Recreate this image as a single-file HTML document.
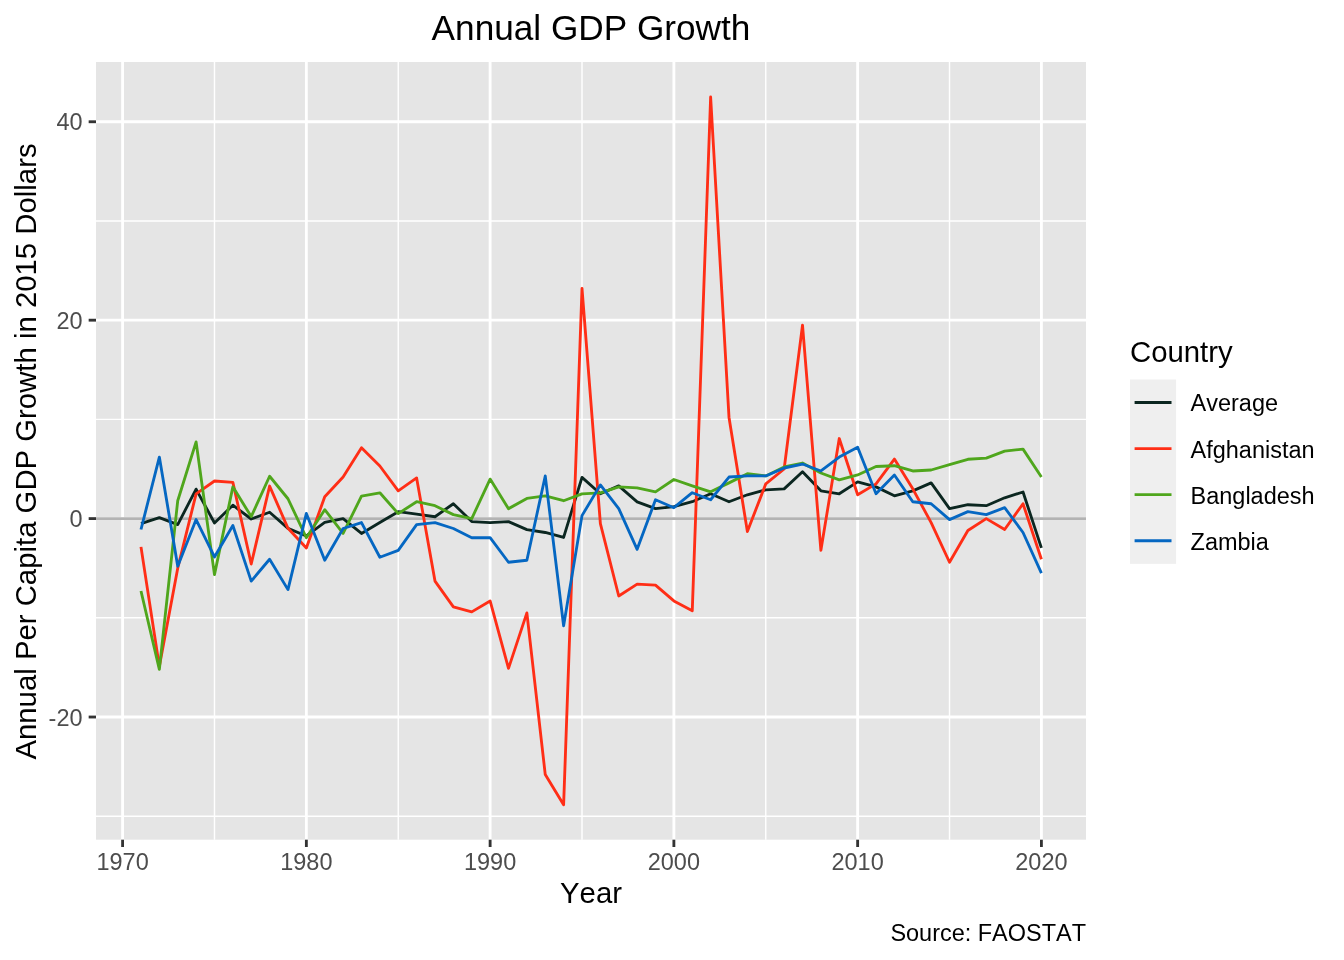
<!DOCTYPE html><html><head><meta charset="utf-8"><style>html,body{margin:0;padding:0;background:#fff;}svg{display:block;will-change:transform;}text{font-family:"Liberation Sans",sans-serif;font-kerning:none;}</style></head><body>
<svg width="1344" height="960" viewBox="0 0 1344 960">
<rect x="0" y="0" width="1344" height="960" fill="#fff"/>
<rect x="96.0" y="62.0" width="990.0" height="777.70" fill="#E5E5E5"/>
<line x1="96.0" y1="816.23" x2="1086.0" y2="816.23" stroke="#fff" stroke-width="1.423"/>
<line x1="96.0" y1="617.81" x2="1086.0" y2="617.81" stroke="#fff" stroke-width="1.423"/>
<line x1="96.0" y1="419.39" x2="1086.0" y2="419.39" stroke="#fff" stroke-width="1.423"/>
<line x1="96.0" y1="220.97" x2="1086.0" y2="220.97" stroke="#fff" stroke-width="1.423"/>
<line x1="214.48" y1="62.0" x2="214.48" y2="839.7" stroke="#fff" stroke-width="1.423"/>
<line x1="398.24" y1="62.0" x2="398.24" y2="839.7" stroke="#fff" stroke-width="1.423"/>
<line x1="582.00" y1="62.0" x2="582.00" y2="839.7" stroke="#fff" stroke-width="1.423"/>
<line x1="765.76" y1="62.0" x2="765.76" y2="839.7" stroke="#fff" stroke-width="1.423"/>
<line x1="949.52" y1="62.0" x2="949.52" y2="839.7" stroke="#fff" stroke-width="1.423"/>
<line x1="96.0" y1="717.02" x2="1086.0" y2="717.02" stroke="#fff" stroke-width="2.845"/>
<line x1="96.0" y1="518.60" x2="1086.0" y2="518.60" stroke="#fff" stroke-width="2.845"/>
<line x1="96.0" y1="320.18" x2="1086.0" y2="320.18" stroke="#fff" stroke-width="2.845"/>
<line x1="96.0" y1="121.76" x2="1086.0" y2="121.76" stroke="#fff" stroke-width="2.845"/>
<line x1="122.60" y1="62.0" x2="122.60" y2="839.7" stroke="#fff" stroke-width="2.845"/>
<line x1="306.36" y1="62.0" x2="306.36" y2="839.7" stroke="#fff" stroke-width="2.845"/>
<line x1="490.12" y1="62.0" x2="490.12" y2="839.7" stroke="#fff" stroke-width="2.845"/>
<line x1="673.88" y1="62.0" x2="673.88" y2="839.7" stroke="#fff" stroke-width="2.845"/>
<line x1="857.64" y1="62.0" x2="857.64" y2="839.7" stroke="#fff" stroke-width="2.845"/>
<line x1="1041.40" y1="62.0" x2="1041.40" y2="839.7" stroke="#fff" stroke-width="2.845"/>
<line x1="96.0" y1="518.60" x2="1086.0" y2="518.60" stroke="#B3B3B3" stroke-width="2.845"/>
<defs><clipPath id="pc"><rect x="96.0" y="62.0" width="990.0" height="777.70"/></clipPath></defs>
<g clip-path="url(#pc)" fill="none" stroke-width="2.845" stroke-linejoin="round" stroke-linecap="butt">
<polyline points="140.98,523.56 159.35,517.61 177.73,524.55 196.10,489.13 214.48,522.97 232.86,505.21 251.23,519.00 269.61,512.25 287.98,528.32 306.36,535.96 324.74,522.47 343.11,518.60 361.49,533.48 379.86,522.57 398.24,511.66 416.62,514.14 434.99,516.72 453.37,503.72 471.74,521.58 490.12,522.57 508.50,521.58 526.87,529.61 545.25,532.49 563.62,537.45 582.00,477.43 600.38,493.80 618.75,485.86 637.13,501.83 655.50,508.68 673.88,506.69 692.26,501.73 710.63,493.80 729.01,501.73 747.38,494.79 765.76,489.83 784.14,488.84 802.51,471.67 820.89,490.82 839.26,493.80 857.64,481.89 876.02,486.85 894.39,495.78 912.77,490.82 931.14,482.88 949.52,508.68 967.90,504.71 986.27,505.70 1004.65,497.77 1023.02,492.01 1041.40,547.87" stroke="#0B2620"/>
<polyline points="140.98,546.87 159.35,666.42 177.73,568.21 196.10,493.80 214.48,481.00 232.86,482.39 251.23,564.04 269.61,486.06 287.98,528.32 306.36,547.97 324.74,496.77 343.11,476.93 361.49,447.76 379.86,466.02 398.24,490.82 416.62,477.92 434.99,581.10 453.37,606.90 471.74,611.86 490.12,600.94 508.50,668.41 526.87,612.85 545.25,774.56 563.62,804.82 582.00,288.43 600.38,523.56 618.75,595.98 637.13,584.08 655.50,585.07 673.88,600.94 692.26,610.87 710.63,96.96 729.01,417.41 747.38,531.50 765.76,483.88 784.14,469.00 802.51,325.14 820.89,550.35 839.26,438.54 857.64,494.79 876.02,483.88 894.39,459.07 912.77,488.84 931.14,522.57 949.52,562.25 967.90,530.51 986.27,518.60 1004.65,529.51 1023.02,503.72 1041.40,559.28" stroke="#FF2E16"/>
<polyline points="140.98,591.02 159.35,669.40 177.73,500.74 196.10,441.91 214.48,574.65 232.86,486.85 251.23,516.62 269.61,476.24 287.98,498.76 306.36,537.75 324.74,509.67 343.11,533.48 361.49,496.08 379.86,492.81 398.24,513.64 416.62,501.73 434.99,505.70 453.37,514.63 471.74,518.60 490.12,479.11 508.50,508.68 526.87,498.46 545.25,495.88 563.62,500.74 582.00,493.80 600.38,492.81 618.75,486.85 637.13,487.94 655.50,491.91 673.88,479.51 692.26,485.86 710.63,491.81 729.01,482.88 747.38,473.66 765.76,475.94 784.14,467.01 802.51,463.04 820.89,472.96 839.26,479.91 857.64,474.95 876.02,466.51 894.39,465.72 912.77,470.98 931.14,469.99 949.52,464.53 967.90,459.27 986.27,458.08 1004.65,451.14 1023.02,449.15 1041.40,476.93" stroke="#4FA61C"/>
<polyline points="140.98,529.51 159.35,457.09 177.73,566.22 196.10,519.59 214.48,556.99 232.86,525.54 251.23,581.10 269.61,559.28 287.98,589.63 306.36,513.44 324.74,560.27 343.11,528.52 361.49,522.57 379.86,557.29 398.24,550.35 416.62,524.55 434.99,522.57 453.37,528.52 471.74,537.75 490.12,537.65 508.50,562.25 526.87,560.27 545.25,475.94 563.62,625.75 582.00,515.62 600.38,484.87 618.75,508.68 637.13,549.36 655.50,499.75 673.88,507.69 692.26,492.71 710.63,499.75 729.01,477.03 747.38,475.94 765.76,475.94 784.14,468.00 802.51,464.03 820.89,470.98 839.26,457.09 857.64,447.27 876.02,493.80 894.39,474.95 912.77,501.73 931.14,503.72 949.52,519.59 967.90,511.66 986.27,514.63 1004.65,507.69 1023.02,532.49 1041.40,573.17" stroke="#0567C2"/>
</g>
<line x1="88.67" y1="717.02" x2="96.0" y2="717.02" stroke="#333" stroke-width="2.845"/>
<text x="82.5" y="725.62" font-size="23.47" fill="#4D4D4D" text-anchor="end">-20</text>
<line x1="88.67" y1="518.60" x2="96.0" y2="518.60" stroke="#333" stroke-width="2.845"/>
<text x="82.5" y="527.20" font-size="23.47" fill="#4D4D4D" text-anchor="end">0</text>
<line x1="88.67" y1="320.18" x2="96.0" y2="320.18" stroke="#333" stroke-width="2.845"/>
<text x="82.5" y="328.78" font-size="23.47" fill="#4D4D4D" text-anchor="end">20</text>
<line x1="88.67" y1="121.76" x2="96.0" y2="121.76" stroke="#333" stroke-width="2.845"/>
<text x="82.5" y="130.36" font-size="23.47" fill="#4D4D4D" text-anchor="end">40</text>
<line x1="122.60" y1="839.7" x2="122.60" y2="847.03" stroke="#333" stroke-width="2.845"/>
<text x="122.60" y="869.7" font-size="23.47" fill="#4D4D4D" text-anchor="middle">1970</text>
<line x1="306.36" y1="839.7" x2="306.36" y2="847.03" stroke="#333" stroke-width="2.845"/>
<text x="306.36" y="869.7" font-size="23.47" fill="#4D4D4D" text-anchor="middle">1980</text>
<line x1="490.12" y1="839.7" x2="490.12" y2="847.03" stroke="#333" stroke-width="2.845"/>
<text x="490.12" y="869.7" font-size="23.47" fill="#4D4D4D" text-anchor="middle">1990</text>
<line x1="673.88" y1="839.7" x2="673.88" y2="847.03" stroke="#333" stroke-width="2.845"/>
<text x="673.88" y="869.7" font-size="23.47" fill="#4D4D4D" text-anchor="middle">2000</text>
<line x1="857.64" y1="839.7" x2="857.64" y2="847.03" stroke="#333" stroke-width="2.845"/>
<text x="857.64" y="869.7" font-size="23.47" fill="#4D4D4D" text-anchor="middle">2010</text>
<line x1="1041.40" y1="839.7" x2="1041.40" y2="847.03" stroke="#333" stroke-width="2.845"/>
<text x="1041.40" y="869.7" font-size="23.47" fill="#4D4D4D" text-anchor="middle">2020</text>
<text x="591" y="39.7" font-size="35.2" fill="#000" text-anchor="middle">Annual GDP Growth</text>
<text x="591" y="903.1" font-size="29.33" fill="#000" text-anchor="middle">Year</text>
<text transform="translate(35.6,451.5) rotate(-90)" x="0" y="0" font-size="29.33" fill="#000" text-anchor="middle">Annual Per Capita GDP Growth in 2015 Dollars</text>
<text x="1086" y="940.6" font-size="23.47" fill="#000" text-anchor="end">Source: FAOSTAT</text>
<text x="1130" y="362.2" font-size="29.33" fill="#000">Country</text>
<rect x="1130" y="379.5" width="46.08" height="184.32" fill="#EFEFEF"/>
<line x1="1134.6" y1="402.54" x2="1171.5" y2="402.54" stroke="#0B2620" stroke-width="2.845"/>
<text x="1190.6" y="411.44" font-size="23.47" fill="#000">Average</text>
<line x1="1134.6" y1="448.62" x2="1171.5" y2="448.62" stroke="#FF2E16" stroke-width="2.845"/>
<text x="1190.6" y="457.52" font-size="23.47" fill="#000">Afghanistan</text>
<line x1="1134.6" y1="494.70" x2="1171.5" y2="494.70" stroke="#4FA61C" stroke-width="2.845"/>
<text x="1190.6" y="503.60" font-size="23.47" fill="#000">Bangladesh</text>
<line x1="1134.6" y1="540.78" x2="1171.5" y2="540.78" stroke="#0567C2" stroke-width="2.845"/>
<text x="1190.6" y="549.68" font-size="23.47" fill="#000">Zambia</text>
</svg></body></html>
